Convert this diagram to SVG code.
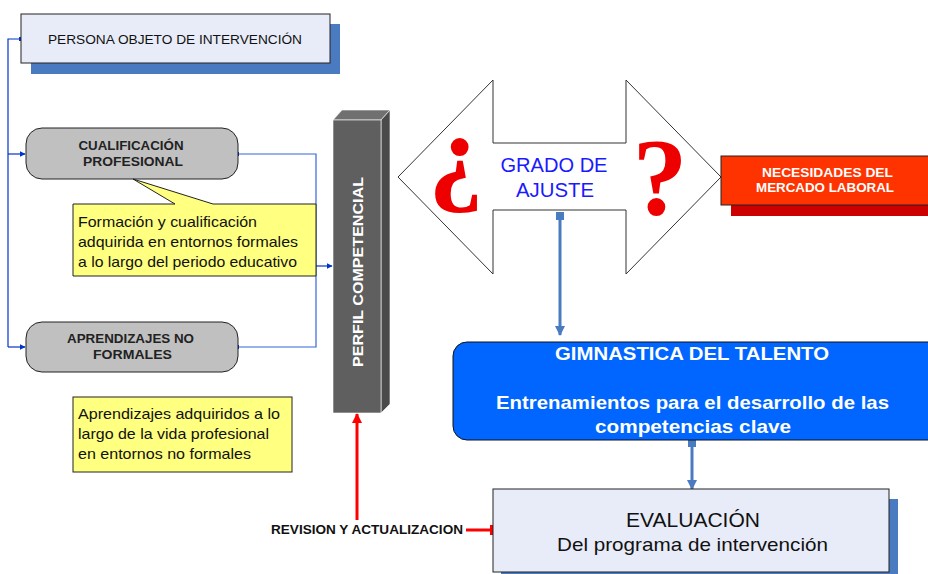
<svg xmlns="http://www.w3.org/2000/svg" width="928" height="574" viewBox="0 0 928 574">
<defs>
<style>
text{font-family:"Liberation Sans",Arial,sans-serif}
.b{font-weight:bold}
.q{font-family:"Liberation Serif","Times New Roman",serif;font-weight:bold}
.blue{stroke:#0033cc;stroke-width:1.2;fill:none}
</style>
<marker id="ab" viewBox="0 0 10 10" refX="9" refY="5" markerWidth="6" markerHeight="6" orient="auto" markerUnits="userSpaceOnUse"><path d="M0,0 L10,5 L0,10 z" fill="#0033cc"/></marker>
<marker id="ab2" viewBox="0 0 10 10" refX="9" refY="5" markerWidth="12" markerHeight="10" orient="auto" markerUnits="userSpaceOnUse"><path d="M0,0 L10,5 L0,10 z" fill="#4a7abf"/></marker>
<marker id="ar" viewBox="0 0 10 10" refX="9" refY="5" markerWidth="12" markerHeight="10" orient="auto" markerUnits="userSpaceOnUse"><path d="M0,0 L10,5 L0,10 z" fill="#ff0000"/></marker>
</defs>
<rect width="928" height="574" fill="#fff"/>

<g id="connectors">
<polyline class="blue" points="21,39 8,39 8,347"/>
<line class="blue" x1="8" y1="154" x2="25" y2="154" marker-end="url(#ab)"/>
<line class="blue" x1="8" y1="347" x2="25" y2="347" marker-end="url(#ab)"/>
<rect x="19" y="37" width="4" height="4" fill="#0033cc"/>
<polyline points="238,154 316,154 316,347 238,347" fill="none" stroke="#3366dd" stroke-width="1.2"/>
<rect x="235" y="152" width="4" height="4" fill="#0033cc"/>
<rect x="235" y="345" width="4" height="4" fill="#0033cc"/>
<line class="blue" x1="316" y1="266" x2="332" y2="266" marker-end="url(#ab)"/>
<line x1="560" y1="216" x2="560" y2="335" stroke="#4a7abf" stroke-width="3" marker-end="url(#ab2)"/>
<rect x="556" y="212" width="8" height="8" fill="#4a7abf"/>
<line x1="692" y1="442" x2="692" y2="489" stroke="#4a7abf" stroke-width="3" marker-end="url(#ab2)"/>
<rect x="688" y="438" width="8" height="9" fill="#4a7abf"/>
<line x1="357" y1="520" x2="357" y2="414" stroke="#ff0000" stroke-width="3" marker-end="url(#ar)"/>
<line x1="466" y1="530" x2="493" y2="530" stroke="#ff0000" stroke-width="3"/>
<rect x="490" y="525" width="6" height="10" fill="#ff0000"/>
</g>

<g id="persona">
<rect x="31" y="24" width="309" height="50" fill="#4a7abf"/>
<rect x="21" y="14" width="309" height="49" fill="#e8ecf8" stroke="#222" stroke-width="1"/>
<text x="175" y="44" font-size="13.5" text-anchor="middle" fill="#111" textLength="254" lengthAdjust="spacingAndGlyphs">PERSONA OBJETO DE INTERVENCIÓN</text>
</g>

<g id="cualificacion">
<rect x="26" y="128" width="212" height="51" rx="16" fill="#c0c0c0" stroke="#222" stroke-width="1"/>
<text x="131" y="150" font-size="12.5" class="b" text-anchor="middle" fill="#222" textLength="105" lengthAdjust="spacingAndGlyphs">CUALIFICACIÓN</text>
<text x="133" y="166" font-size="12.5" class="b" text-anchor="middle" fill="#222" textLength="100" lengthAdjust="spacingAndGlyphs">PROFESIONAL</text>
</g>

<g id="callout1">
<path d="M73,204 L175,204 L133,179 L213,204 L316,204 L316,276 L73,276 Z" fill="#ffff80" stroke="#222" stroke-width="1"/>
<text x="78" y="227" font-size="15" fill="#111" textLength="179" lengthAdjust="spacingAndGlyphs">Formación y cualificación</text>
<text x="78" y="247" font-size="15" fill="#111" textLength="220" lengthAdjust="spacingAndGlyphs">adquirida en entornos formales</text>
<text x="78" y="267" font-size="15" fill="#111" textLength="219" lengthAdjust="spacingAndGlyphs">a lo largo del periodo educativo</text>
</g>

<g id="aprendizajes">
<rect x="26" y="322" width="212" height="50" rx="16" fill="#c0c0c0" stroke="#222" stroke-width="1"/>
<text x="130.5" y="343" font-size="12.5" class="b" text-anchor="middle" fill="#222" textLength="127" lengthAdjust="spacingAndGlyphs">APRENDIZAJES NO</text>
<text x="132.5" y="359" font-size="12.5" class="b" text-anchor="middle" fill="#222" textLength="79" lengthAdjust="spacingAndGlyphs">FORMALES</text>
</g>

<g id="nota2">
<rect x="73" y="397" width="219" height="75" fill="#ffff80" stroke="#222" stroke-width="1"/>
<text x="78" y="419" font-size="15" fill="#111" textLength="202" lengthAdjust="spacingAndGlyphs">Aprendizajes adquiridos a lo</text>
<text x="78" y="439" font-size="15" fill="#111" textLength="191" lengthAdjust="spacingAndGlyphs">largo de la vida profesional</text>
<text x="78" y="459" font-size="15" fill="#111" textLength="173" lengthAdjust="spacingAndGlyphs">en entornos no formales</text>
</g>

<g id="perfil">
<path d="M333,120 L342,110 L390,110 L381,120 Z" fill="#707070" stroke="#fff" stroke-width="0.6"/>
<path d="M381,120 L390,110 L390,404 L381,413 Z" fill="#4a4a4a" stroke="#fff" stroke-width="0.6"/>
<rect x="333" y="120" width="48" height="293" fill="#5f5f5f" stroke="#fff" stroke-width="0.6"/>
<text transform="translate(363,272) rotate(-90)" font-size="14" class="b" text-anchor="middle" fill="#fff" textLength="190" lengthAdjust="spacingAndGlyphs">PERFIL COMPETENCIAL</text>
</g>

<g id="grado">
<path d="M398,177 L493,80 L493,143 L626,143 L626,80 L721,177 L626,274 L626,210 L493,210 L493,274 Z" fill="#fff" stroke="#333" stroke-width="1"/>
<text x="456" y="190" font-size="110" text-anchor="middle" fill="#ee0000" class="q">¿</text>
<text x="660" y="214" font-size="110" text-anchor="middle" fill="#ee0000" class="q">?</text>
<text x="554" y="172" font-size="19.5" text-anchor="middle" fill="#1a1aff" textLength="107" lengthAdjust="spacingAndGlyphs">GRADO DE</text>
<text x="555" y="197" font-size="19.5" text-anchor="middle" fill="#1a1aff" textLength="78" lengthAdjust="spacingAndGlyphs">AJUSTE</text>
</g>

<g id="necesidades">
<rect x="731" y="166" width="200" height="50" fill="#cc0000"/>
<rect x="721" y="156" width="210" height="49" fill="#ff3300" stroke="#222" stroke-width="1"/>
<text x="827.5" y="177" font-size="13" class="b" text-anchor="middle" fill="#fff" textLength="131" lengthAdjust="spacingAndGlyphs">NECESIDADES DEL</text>
<text x="825" y="192" font-size="13" class="b" text-anchor="middle" fill="#fff" textLength="138" lengthAdjust="spacingAndGlyphs">MERCADO LABORAL</text>
</g>

<g id="gimnastica">
<rect x="453" y="342" width="490" height="98" rx="14" fill="#0066ff" stroke="#111" stroke-width="1"/>
<text x="692" y="360" font-size="19" class="b" text-anchor="middle" fill="#fff" textLength="274" lengthAdjust="spacingAndGlyphs">GIMNASTICA DEL TALENTO</text>
<text x="692.5" y="409" font-size="19" class="b" text-anchor="middle" fill="#fff" textLength="393" lengthAdjust="spacingAndGlyphs">Entrenamientos para el desarrollo de las</text>
<text x="693" y="433" font-size="19" class="b" text-anchor="middle" fill="#fff" textLength="196" lengthAdjust="spacingAndGlyphs">competencias clave</text>
</g>

<g id="evaluacion">
<rect x="501" y="499" width="397" height="80" fill="#4a7abf"/>
<rect x="493" y="489" width="396" height="83" fill="#e8ecf8" stroke="#222" stroke-width="1"/>
<text x="693" y="527" font-size="20" text-anchor="middle" fill="#111" textLength="134" lengthAdjust="spacingAndGlyphs">EVALUACIÓN</text>
<text x="692.5" y="551" font-size="19" text-anchor="middle" fill="#111" textLength="271" lengthAdjust="spacingAndGlyphs">Del programa de intervención</text>
</g>

<g id="revision">
<text x="463" y="534" font-size="12" class="b" text-anchor="end" fill="#111" textLength="192" lengthAdjust="spacingAndGlyphs">REVISION Y ACTUALIZACION</text>
</g>
</svg>
